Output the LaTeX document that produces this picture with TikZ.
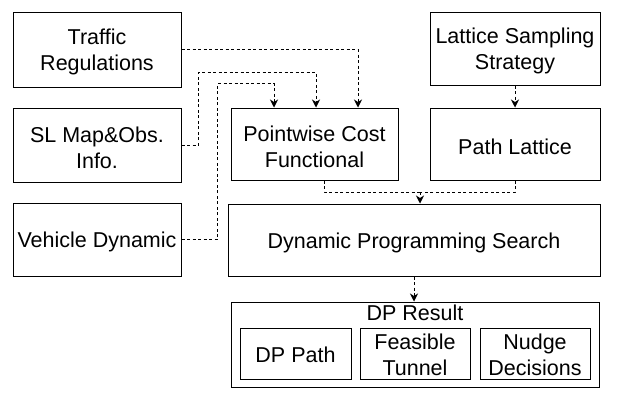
\documentclass[tikz,border=0pt]{standalone}
\usepackage{fontspec}
\setmainfont{Liberation Sans}
\usetikzlibrary{arrows.meta,calc}
\begin{document}
\begin{tikzpicture}[x=1pt,y=-1pt,
  box/.style={draw,line width=1pt,inner sep=0pt},
  lab/.style={inner sep=0pt,align=center,yshift=-2.5pt,font=\fontsize{21.5}{26}\selectfont},
  conn/.style={line width=0.9pt,dash pattern=on 3pt off 2.5pt},
  arr/.style={conn,-{Stealth[length=8pt,width=8pt,inset=2.5pt]}}]
\useasboundingbox (0,0) rectangle (621,400);
\node[box,minimum width=168,minimum height=75,label={[lab]center:{Traffic\\Regulations}}] (tr) at (97,49.5) {};
\node[box,minimum width=168,minimum height=74,label={[lab]center:{SL Map\&Obs.\\Info.}}] (sl) at (97,145) {};
\node[box,minimum width=168,minimum height=73,label={[lab]center:{Vehicle Dynamic}}] (vd) at (97,239.5) {};
\node[box,minimum width=167,minimum height=72,label={[lab]center:{Pointwise Cost\\Functional}}] (pc) at (314.5,144) {};
\node[box,minimum width=170,minimum height=73,label={[lab]center:{Lattice Sampling\\Strategy}}] (ls) at (515,48.5) {};
\node[box,minimum width=170,minimum height=72,label={[lab]center:{Path Lattice}}] (pl) at (515,144) {};
\node[box,minimum width=372,minimum height=72,label={[lab]center:{Dynamic Programming Search}}] (dp) at (414,240) {};
\node[box,minimum width=368,minimum height=85] (res) at (415,344.5) {};
\node[lab,yshift=2.5pt] (lbl) at (415,313) {DP Result};
\node[box,minimum width=111,minimum height=51,label={[lab,yshift=1pt]center:{DP Path}}] (dpp) at (295.5,353.5) {};
\node[box,minimum width=110,minimum height=51,label={[lab,yshift=1pt]center:{Feasible\\Tunnel}}] (ft) at (415,353.5) {};
\node[box,minimum width=110,minimum height=51,label={[lab,yshift=1pt]center:{Nudge\\Decisions}}] (nd) at (535,353.5) {};
\coordinate (m) at (420,192);
% inputs to pointwise cost
\draw[arr] (tr.east) -| ([xshift=43.5]pc.north);
\draw[arr] (sl.east) -- ++(17,0) |- ([xshift=1.5,yshift=35.3]pc.north) -- ([xshift=1.5]pc.north);
\draw[arr] (vd.east) -- ++(36,0) |- ([xshift=-40.5,yshift=24]pc.north) -- ([xshift=-40.5]pc.north);
% lattice
\draw[arr] (ls.south) -- (pl.north);
% merge into DP search
\draw[conn] ([xshift=9.5]pc.south) |- (m);
\draw[conn] (pl.south) |- (m);
\draw[arr] (m) -- (m |- dp.north);
% DP search to result
\draw[arr] (dp.south) -- (dp.south |- res.north);
\end{tikzpicture}
\end{document}
